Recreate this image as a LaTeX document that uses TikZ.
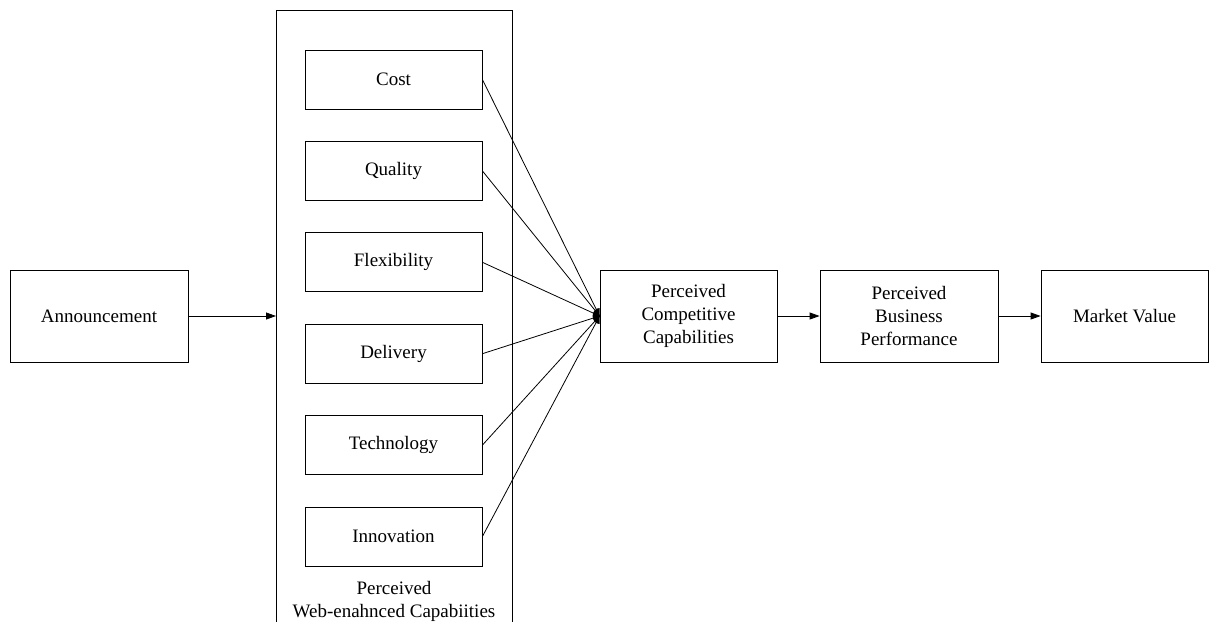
\documentclass[tikz,border=0pt]{standalone}
\usepackage{fontspec}
\setmainfont{Liberation Serif}
\usetikzlibrary{arrows.meta}

\tikzset{
    block/.style={draw, fill=white, line width=0.8pt, inner sep=0pt, align=center,
        minimum width=178pt, minimum height=92pt},
    capbox/.style={block, minimum width=177pt, minimum height=59pt},
    flow/.style={line width=0.8pt, -{Triangle[length=10pt,width=7pt]}},
    link/.style={line width=0.8pt}
}

\begin{document}
\begin{tikzpicture}[x=1pt, y=-1pt, font=\fontsize{19}{23}\selectfont]
    \useasboundingbox (0,0) rectangle (1209,622);

    % outer frame, open at the bottom
    \draw[line width=0.8pt] (276,622) -- (276,10) -- (512,10) -- (512,622);
    \coordinate (frameW) at (276,316);

    % main chain
    \node[block] (ann) at (99,316) {Announcement};
    \node[block, minimum width=177pt] (pcc) at (688.5,316) {Perceived\\Competitive\\Capabilities};
    \node[block] (pbp) at (909,316) {Perceived\\Business\\Performance};
    \node[block, minimum width=167pt] (mv) at (1124.5,316) {Market Value};

    % capability boxes
    \foreach \name/\lbl [count=\i from 0] in {cost/Cost, qual/Quality, flex/Flexibility,
            deliv/Delivery, tech/Technology, innov/Innovation} {
        \node[capbox] (\name) at (393.5,79.5+91.4*\i) {\lbl};
        \draw[link] (\name.east) -- (pcc.west);
    }

    \node[align=center, inner sep=1pt] (webcap) at (394,601) {Perceived\\Web-enahnced Capabiities};

    % junction dot
    \begin{scope}
        \clip ([xshift=-10pt, yshift=-10pt]pcc.west) rectangle ([yshift=10pt]pcc.west);
        \fill (pcc.west) ellipse[x radius=7pt, y radius=8pt];
    \end{scope}

    \draw[flow] (ann.east) -- (frameW);
    \draw[flow] (pcc.east) -- (pbp.west);
    \draw[flow] (pbp.east) -- (mv.west);
\end{tikzpicture}
\end{document}
